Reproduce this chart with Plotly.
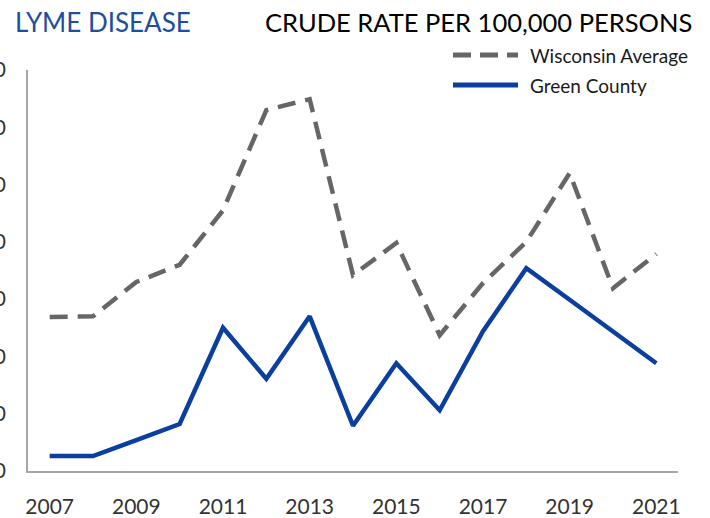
import plotly.graph_objects as go

years = list(range(2007, 2022))
wisconsin = [26.9, 27.0, 33.0, 36.0, 45.5, 63.0, 64.9, 34.2, 39.8, 23.7, 32.8, 40.0, 52.0, 31.9, 37.9]
green = [2.6, 2.6, 5.4, 8.2, 25.0, 16.1, 27.0, 7.9, 18.8, 10.6, 24.4, 35.4, 29.9, 24.4, 18.8]
x_ticks = [2007, 2009, 2011, 2013, 2015, 2017, 2019, 2021]
y_ticks = [0, 10, 20, 30, 40, 50, 60, 70]

gray = "#666666"
blue = "#0a3fa0"
font = "Lato"

W, H = 710, 518
ML, MR, MT, MB = 28, 32, 70, 47
PW, PH = W - ML - MR, H - MT - MB


def px(x):
    return (x - ML) / PW


def py(y):
    return 1 - (y - MT) / PH


fig = go.Figure()
fig.add_trace(go.Scatter(x=years, y=wisconsin, mode="lines", name="Wisconsin Average",
                         line=dict(color=gray, width=4.5, dash="18px,10px")))
fig.add_trace(go.Scatter(x=years, y=green, mode="lines", name="Green County",
                         line=dict(color=blue, width=4.5)))

fig.update_layout(
    width=W, height=H,
    margin=dict(l=ML, r=MR, t=MT, b=MB),
    paper_bgcolor="white", plot_bgcolor="white",
    showlegend=False,
    font=dict(family=font, color="#333333"),
    xaxis=dict(range=[2006.5, 2021.5], tickvals=x_ticks, showgrid=False, zeroline=False,
               showline=True, linecolor="#a6a6a6", linewidth=1.5, ticks="",
               tickfont=dict(size=21, color="#333333"), ticklabelstandoff=16,
               automargin=False),
    yaxis=dict(range=[0, 70], tickvals=y_ticks, showgrid=False, zeroline=False,
               showline=True, linecolor="#a6a6a6", linewidth=1.5, ticks="",
               tickfont=dict(size=21, color="#333333"), ticklabelstandoff=16,
               automargin=False),
)

fig.add_annotation(text="LYME DISEASE", xref="paper", yref="paper", x=px(13), y=py(22),
                   xanchor="left", yanchor="middle", showarrow=False,
                   font=dict(size=26, color="#1f4e9e", family=font))
fig.add_annotation(text="CRUDE RATE PER 100,000 PERSONS", xref="paper", yref="paper",
                   x=px(694), y=py(22), xanchor="right", yanchor="middle", showarrow=False,
                   font=dict(size=25.5, color="black", family=font))

# legend drawn manually
legend_items = [("Wisconsin Average", gray, "18px,9px", 55), ("Green County", blue, "solid", 85)]
for name, col, dash, ypx in legend_items:
    fig.add_shape(type="line", xref="paper", yref="paper",
                  x0=px(453), x1=px(518), y0=py(ypx), y1=py(ypx),
                  line=dict(color=col, width=5, dash=dash))
    fig.add_annotation(text=name, xref="paper", yref="paper", x=px(528), y=py(ypx),
                       xanchor="left", yanchor="middle", showarrow=False,
                       font=dict(size=19, color="#1a1a1a", family=font))

fig.write_html("out.html", config={"displayModeBar": False},
               post_script="document.body.style.margin='0';")
